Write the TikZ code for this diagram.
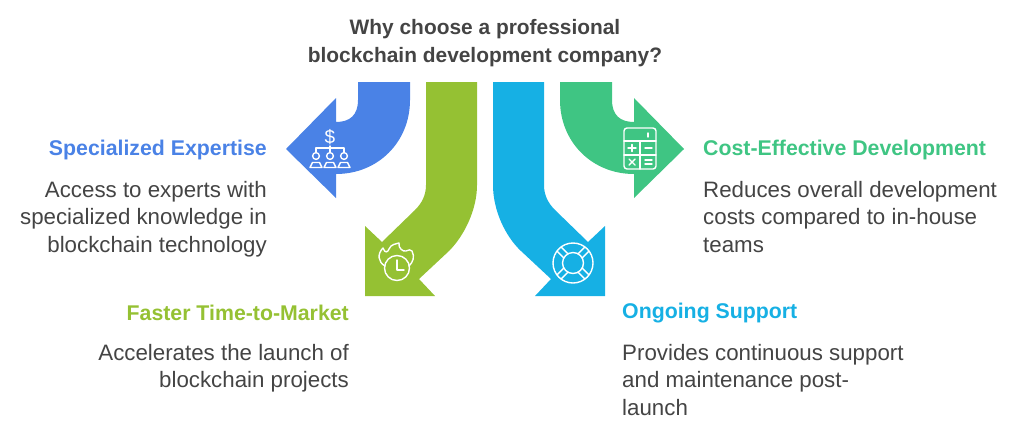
\documentclass[tikz,border=0pt]{standalone}
\usepackage{fontspec}
\setmainfont{Liberation Sans}
\definecolor{blueArrow}{HTML}{4A82E6}
\definecolor{limeArrow}{HTML}{95C133}
\definecolor{cyanArrow}{HTML}{16B0E4}
\definecolor{mintArrow}{HTML}{3FC583}
\definecolor{bodyText}{HTML}{444444}
\tikzset{
    heading/.style={
        font=\fontsize{21.3}{25}\selectfont\bfseries,
        inner sep=0pt
    },
    bodytext/.style={
        font=\fontsize{22.3}{27.5}\selectfont,
        text=bodyText,
        inner sep=0pt
    },
    icon/.style={
        draw=white,
        line width=1.4pt,
        line cap=round,
        line join=round
    },
}

\begin{document}
\begin{tikzpicture}[x=1pt,y=-1pt]
\useasboundingbox (0,0) rectangle (1024,432);

%% arrows
\fill[blueArrow] (358,82) -- (410,82) -- (410,100) .. controls (410,142) and (378,174) .. (336,174)
  -- (336,198) -- (286,149) -- (336,98) -- (336,122) .. controls (350,122) and (358,115) .. (358,100) -- cycle;
\fill[limeArrow] (426,82) -- (477,82) -- (477,185) .. controls (477,210) and (464,236) .. (449,251)
  -- (419,279) -- (435,296) -- (365,296) -- (365,226) -- (382,242) -- (415,210) .. controls (422,203) and (426,195) .. (426,185) -- cycle;
\fill[cyanArrow] (493,82) -- (544,82) -- (544,185) .. controls (544,195) and (548,203) .. (555,210)
  -- (588,242) -- (605,226) -- (605,296) -- (535,296) -- (551,279) -- (521,251) .. controls (505,236) and (493,210) .. (493,185) -- cycle;
\fill[mintArrow] (560,82) -- (612,82) -- (612,100) .. controls (612,115) and (620,122) .. (634,122)
  -- (634,98) -- (684,149) -- (634,198) -- (634,174) .. controls (592,174) and (560,142) .. (560,100) -- cycle;

%% icons
% experts
\node[text=white,inner sep=0pt,font=\fontsize{19}{19}\selectfont] (dollar) at (330,137) {\$};
\draw[icon] (330,146) -- (330,152) (316,152) -- (316,148) -- (344,148) -- (344,152);
\foreach \x in {316,330,344} {
\draw[icon] (\x,156) circle (3.4);
\draw[icon] (\x-6,167.5) -- (\x-3.5,162.5) -- (\x+3.5,162.5) -- (\x+6,167.5) -- cycle;
}
% clock
\draw[icon] (397,268) circle (12.5);
\draw[icon] (397,260) -- (397,270) -- (404,270);
\draw[icon] (385,266) .. controls (378,262) and (377,254) .. (383,248) .. controls (385,254) and (388,252) .. (389,249)
  .. controls (391,244) and (396,244) .. (399,243) .. controls (398,248) and (403,252) .. (406,251)
  .. controls (408,250) and (411,249) .. (412,251) .. controls (415,257) and (413,262) .. (409,266);
% lifebuoy
\draw[icon] (573,263) circle (20) (573,263) circle (10.5);
\foreach \a in {45,135,225,315} {
\draw[icon] (573,263) ++(\a-16:10.5) -- ++(\a:9.5);
\draw[icon] (573,263) ++(\a+16:10.5) -- ++(\a:9.5);
}
% calculator
\draw[icon,rounded corners=3pt] (624,128) rectangle (656,169);
\draw[icon] (624,141) -- (656,141) (624,155) -- (656,155) (640,141) -- (640,169);
\draw[icon] (648,133) -- (648,137);
\draw[icon] (628,148) -- (636,148) (632,144.5) -- (632,151.5);
\draw[icon] (645,148) -- (652,148);
\draw[icon] (629,159) -- (635,165) (635,159) -- (629,165);
\draw[icon] (645,160) -- (652,160) (645,164) -- (652,164);

%% texts
\node[font=\fontsize{20.9}{27.5}\selectfont\bfseries,text=bodyText,align=center,inner sep=0pt] (title) at (485,43) {Why choose a professional\\blockchain development company?};
% left
\node[heading,text=blueArrow,anchor=east] (expertise) at (267,150) {Specialized Expertise};
\node[bodytext,align=right,anchor=north east] (expertisetext) at (267,181) {Access to experts with\\specialized knowledge in\\blockchain technology};
\node[heading,text=limeArrow,anchor=east] (market) at (349,313) {Faster Time-to-Market};
\node[bodytext,align=right,anchor=north east] (markettext) at (349,344) {Accelerates the launch of\\blockchain projects};
% right
\node[heading,text=mintArrow,anchor=west] (cost) at (703,150) {Cost-Effective Development};
\node[bodytext,align=left,anchor=north west] (costtext) at (703,181) {Reduces overall development\\costs compared to in-house\\teams};
\node[heading,text=cyanArrow,anchor=west] (support) at (622,313) {Ongoing Support};
\node[bodytext,align=left,anchor=north west] (supporttext) at (622,344) {Provides continuous support\\and maintenance post-\\launch};
\end{tikzpicture}
\end{document}
